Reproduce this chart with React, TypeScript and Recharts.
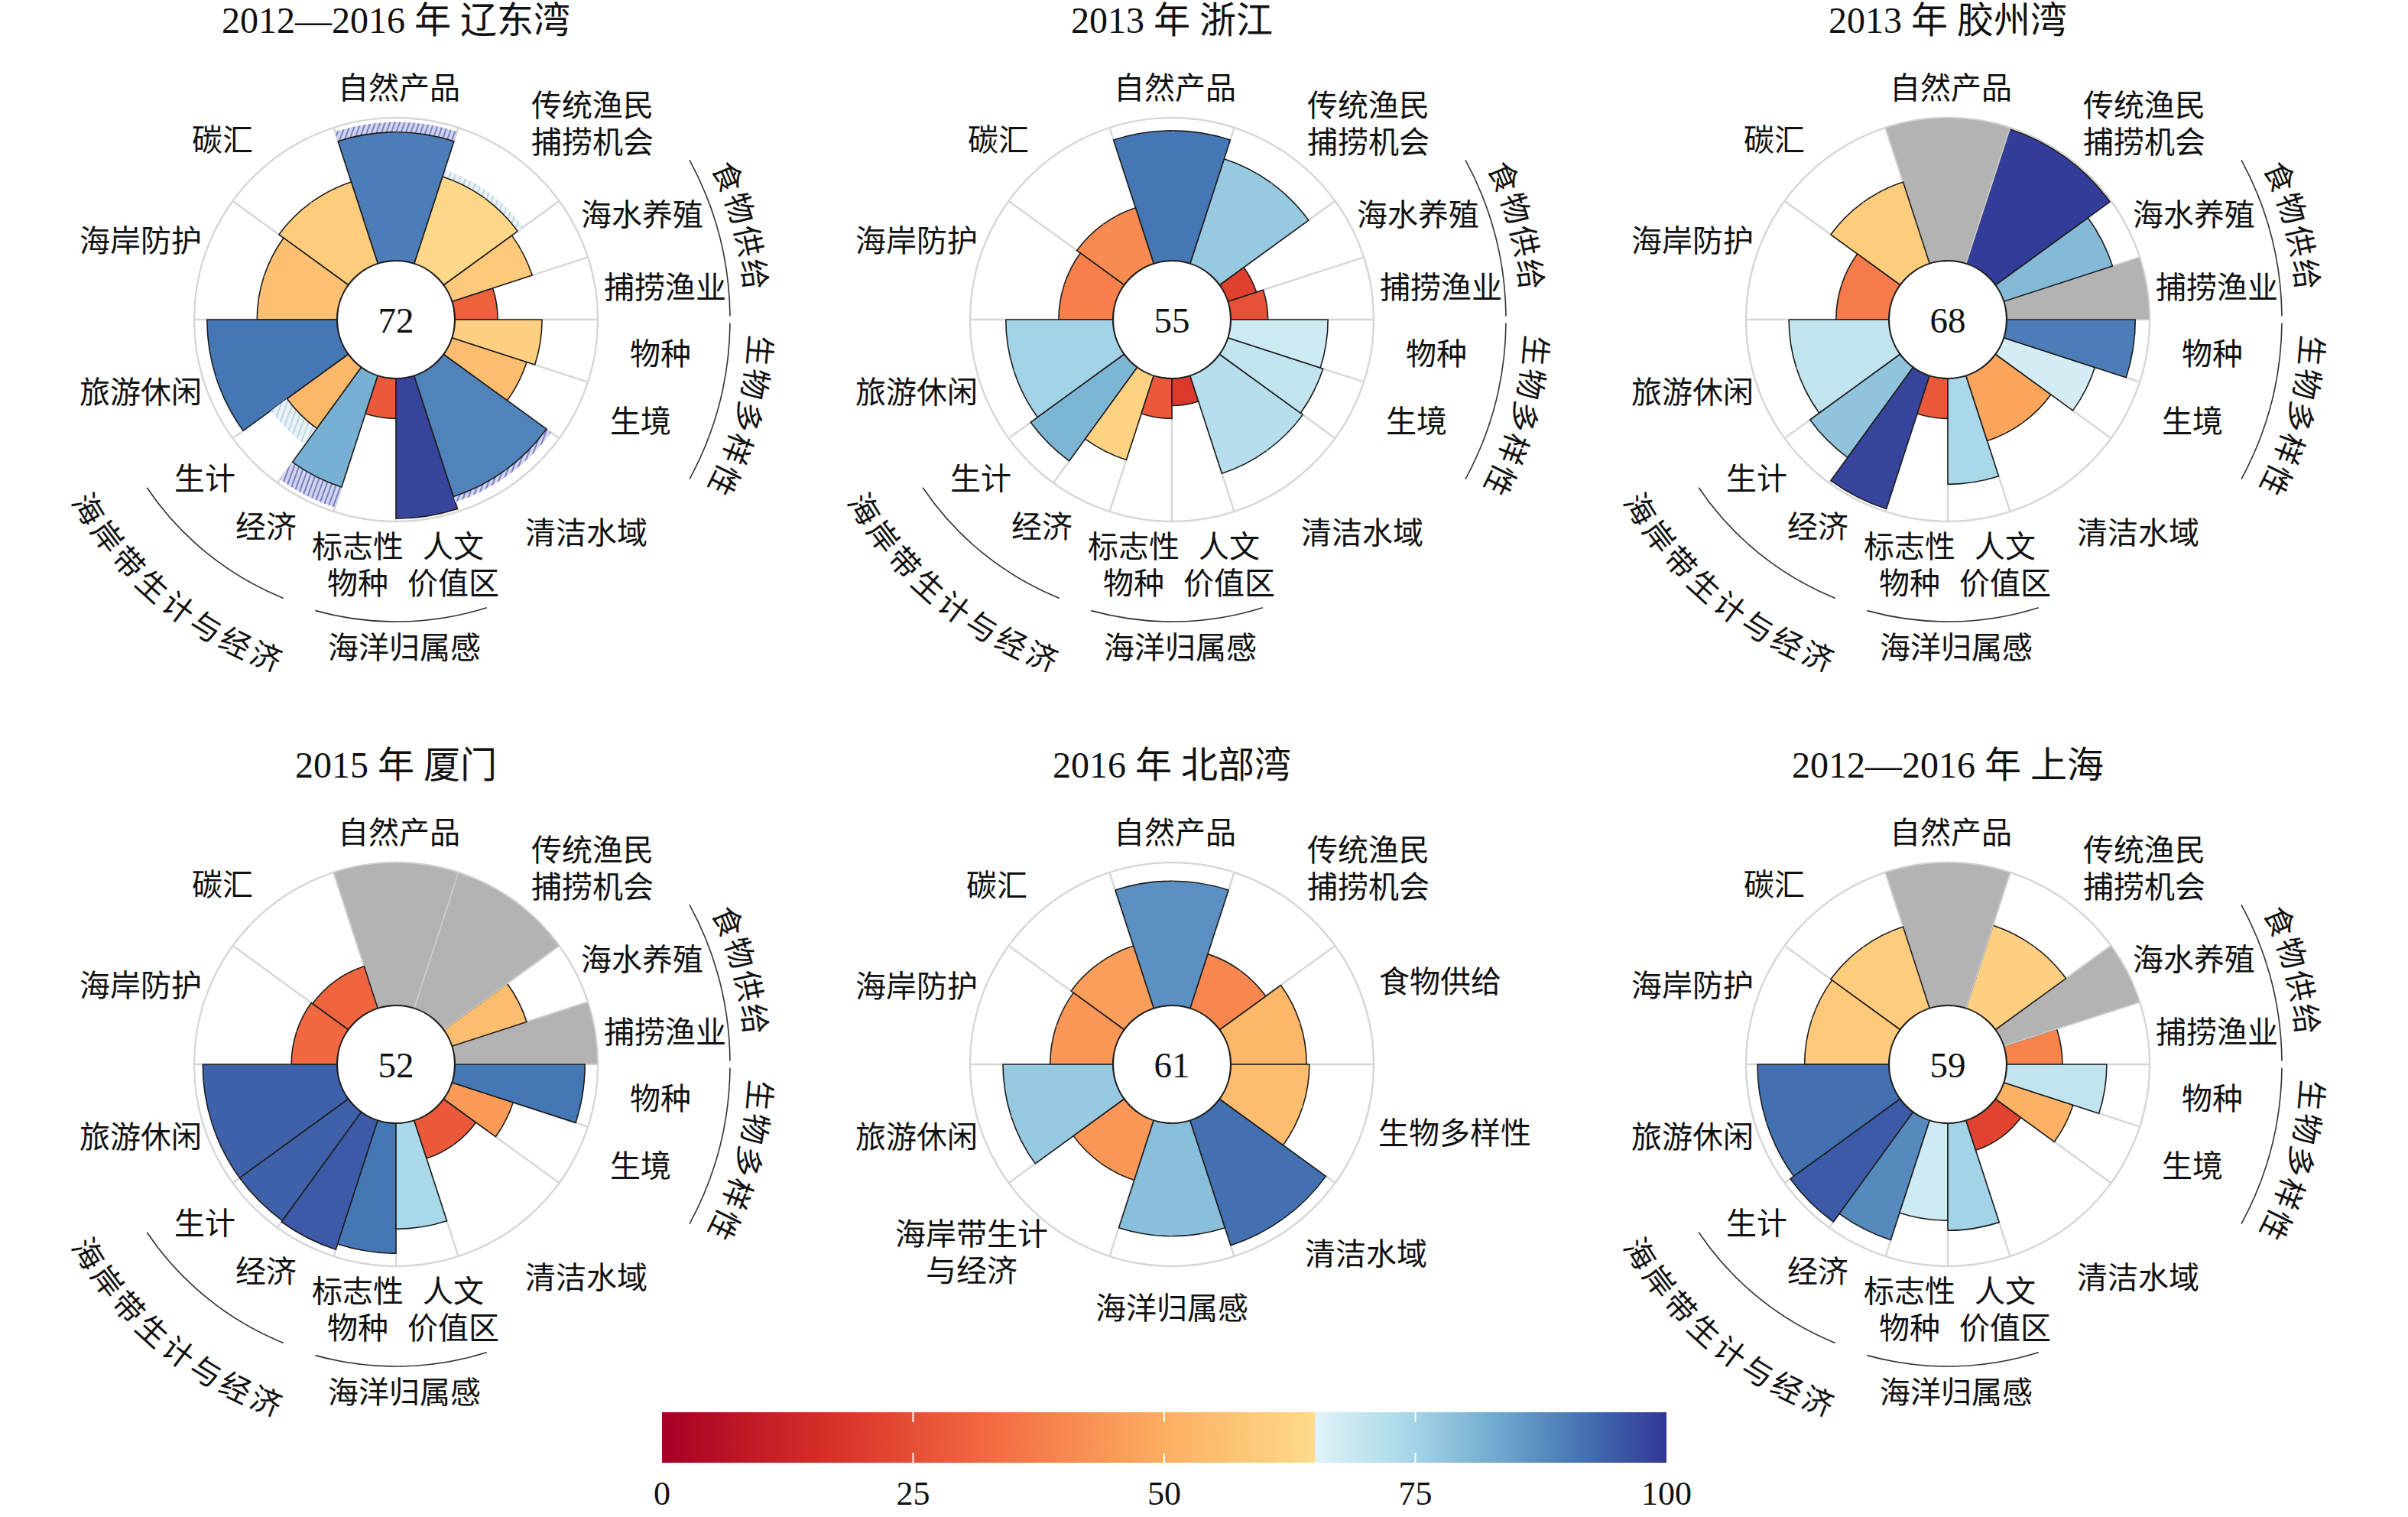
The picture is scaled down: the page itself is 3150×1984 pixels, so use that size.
import React from 'react';
import {
  RadialBarChart, RadialBar, PolarGrid, PolarAngleAxis, PolarRadiusAxis,
  BarChart, Bar, XAxis, YAxis,
} from 'recharts';

// ---------------- data ----------------
// sub-goal order, counter-clockwise starting at 0° (3 o'clock)
const subGoalNames = ['捕捞渔业', '海水养殖', '传统渔民捕捞机会', '自然产品', '碳汇', '海岸防护', '旅游休闲', '生计', '经济', '标志性物种', '人文价值区', '清洁水域', '生境', '物种'];
const subGoalWeights = [1, 1, 2, 2, 2, 2, 2, 1, 1, 1, 1, 2, 1, 1];
const subGroupNames = ['食物供给', '生物多样性', '海岸带生计与经济', '海洋归属感'];
const goalNames = ['食物供给', '传统渔民捕捞机会', '自然产品', '碳汇', '海岸防护', '旅游休闲', '海岸带生计与经济', '海洋归属感', '清洁水域', '生物多样性'];
const goalWeights = [2, 2, 2, 2, 2, 2, 2, 2, 2, 2];

const liaodongScores = [30, 59, 64, 90, 60, 56, 91, 53, 82, 28, 98, 89, 55, 61];
const liaodongUpper = [null, null, 69, 97, null, null, null, 67, 97, null, null, 93, null, null];
const zhejiangScores = [26, 21, 77, 91, 41, 38, 75, 81, 62, 28, 19, 72, 70, 68];
const jiaozhouScores = [null, 80, 99, null, 60, 37, 70, 78, 98, 28, 74, 48, 67, 90];
const xiamenScores = [null, 55, null, null, 31, 32, 94, 94, 95, 91, 74, 28, 45, 91];
const beibuScores = [53, 40, 87, 46, 44, 77, 44, 79, 92, 55];
const shanghaiScores = [39, null, 61, null, 60, 59, 92, 95, 88, 68, 75, 22, 51, 70];
const indexScores = [72, 55, 68, 52, 61, 59];
const panelTitles = ['2012—2016 年 辽东湾', '2013 年 浙江', '2013 年 胶州湾', '2015 年 厦门', '2016 年 北部湾', '2012—2016 年 上海'];
const colorbarTicks = [0, 25, 50, 75, 100];

// ---------------- styles / layout ----------------
const FONT = '"Liberation Serif", "Noto Sans CJK SC", serif';
const CENTERS = [[518, 418], [1533, 418], [2548, 418], [518, 1392], [1533, 1392], [2548, 1392]];
const HALF = 300;
const R_IN = 77;
const R_OUT = 264;
const NA_FILL = '#b3b3b3';
const HATCH_PANEL0: Record<number, string> = { 2: 'hatchLight', 3: 'hatchStrong', 7: 'hatchLight', 8: 'hatchStrong', 11: 'hatchStrong' };

const SUB_LABEL_LAYOUT = [
  { dx: 352, dy: -42, brk: 0 },
  { dx: 322, dy: -137, brk: 0 },
  { dx: 257, dy: -280, brk: 4 },
  { dx: 4, dy: -303, brk: 0 },
  { dx: -227, dy: -235, brk: 0 },
  { dx: -334, dy: -103, brk: 0 },
  { dx: -334, dy: 95, brk: 0 },
  { dx: -250, dy: 208, brk: 0 },
  { dx: -170, dy: 271, brk: 0 },
  { dx: -50, dy: 297, brk: 3 },
  { dx: 75, dy: 297, brk: 2 },
  { dx: 249, dy: 279, brk: 0 },
  { dx: 320, dy: 133, brk: 0 },
  { dx: 346, dy: 45, brk: 0 },
];
const GOAL_LABEL_LAYOUT = [
  { dx: 351, dy: -108, brk: 0 },
  { dx: 257, dy: -280, brk: 4 },
  { dx: 4, dy: -303, brk: 0 },
  { dx: -229, dy: -234, brk: 0 },
  { dx: -334, dy: -102, brk: 0 },
  { dx: -334, dy: 95, brk: 0 },
  { dx: -262, dy: 222, brk: 5 },
  { dx: 0, dy: 319, brk: 0 },
  { dx: 254, dy: 248, brk: 0 },
  { dx: 370, dy: 90, brk: 0 },
];

const panels = [
  { scores: liaodongScores, upper: liaodongUpper, sub: true },
  { scores: zhejiangScores, upper: null, sub: true },
  { scores: jiaozhouScores, upper: null, sub: true },
  { scores: xiamenScores, upper: null, sub: true },
  { scores: beibuScores, upper: null, sub: false },
  { scores: shanghaiScores, upper: null, sub: true },
];

// RdYlBu with the pale middle removed (as in the colour bar)
const RDYLBU = ['#a50026', '#d73027', '#f46d43', '#fdae61', '#fee090', '#ffffbf', '#e0f3f8', '#abd9e9', '#74add1', '#4575b4', '#313695'];
const hex = (h: string) => [parseInt(h.slice(1, 3), 16), parseInt(h.slice(3, 5), 16), parseInt(h.slice(5, 7), 16)];
function colorAtPos(p: number) {
  const t = Math.max(0, Math.min(1, p)) * 10;
  const i = Math.min(9, Math.floor(t));
  const f = t - i;
  const a = hex(RDYLBU[i]);
  const b = hex(RDYLBU[i + 1]);
  const c = a.map((v, k) => Math.round(v + (b[k] - v) * f));
  return `rgb(${c[0]},${c[1]},${c[2]})`;
}
function colorFor(s: number) {
  const p = s < 65 ? s * 0.006 : 0.6 + (s - 65) * 0.4 / 35;
  return colorAtPos(p);
}

const RAD = Math.PI / 180;
const pt = (cx: number, cy: number, r: number, a: number) => [cx + r * Math.cos(a * RAD), cy - r * Math.sin(a * RAD)];
function sectorPath(cx: number, cy: number, r0: number, r1: number, a0: number, a1: number) {
  const [x0, y0] = pt(cx, cy, r1, a0);
  const [x1, y1] = pt(cx, cy, r1, a1);
  const [x2, y2] = pt(cx, cy, r0, a1);
  const [x3, y3] = pt(cx, cy, r0, a0);
  const lg = a1 - a0 > 180 ? 1 : 0;
  return `M${x0},${y0} A${r1},${r1} 0 ${lg} 0 ${x1},${y1} L${x2},${y2} A${r0},${r0} 0 ${lg} 1 ${x3},${y3} Z`;
}
function arcPath(cx: number, cy: number, r: number, aStart: number, aEnd: number) {
  const [x0, y0] = pt(cx, cy, r, aStart);
  const [x1, y1] = pt(cx, cy, r, aEnd);
  const sweep = aEnd > aStart ? 0 : 1;
  const lg = Math.abs(aEnd - aStart) > 180 ? 1 : 0;
  return `M${x0},${y0} A${r},${r} 0 ${lg} ${sweep} ${x1},${y1}`;
}

function buildRows(scores: (number | null)[], weights: number[], upper: (number | null)[] | null, panel: number) {
  const rows: any[] = [];
  scores.forEach((s, i) => {
    for (let k = 0; k < weights[i]; k++) {
      rows.push({
        cat: `${i}_${k}`,
        len: s == null ? 100 : s,
        score: s,
        na: s == null,
        first: k === 0,
        last: k === weights[i] - 1,
        hi: upper ? upper[i] : null,
        hatch: panel === 0 ? HATCH_PANEL0[i] : undefined,
      });
    }
  });
  return rows;
}

function Petal(props: any) {
  const { cx, cy, innerRadius, outerRadius, startAngle, endAngle } = props;
  const d = props.payload ?? props;
  const a0 = Math.min(startAngle, endAngle);
  const a1 = Math.max(startAngle, endAngle);
  const fa0 = d.first ? a0 : a0 - 0.4;
  const fa1 = d.last ? a1 : a1 + 0.4;
  const fill = d.na ? NA_FILL : colorFor(d.score);
  const [ix0, iy0] = pt(cx, cy, innerRadius, a0);
  const [ox0, oy0] = pt(cx, cy, outerRadius, a0);
  const [ox1, oy1] = pt(cx, cy, outerRadius, a1);
  const [ix1, iy1] = pt(cx, cy, innerRadius, a1);
  let outline = d.first ? `M${ix0},${iy0} L${ox0},${oy0}` : `M${ox0},${oy0}`;
  outline += ` A${outerRadius},${outerRadius} 0 0 0 ${ox1},${oy1}`;
  if (d.last) outline += ` L${ix1},${iy1}`;
  let band = null;
  if (d.hi != null && d.hatch) {
    const rh = innerRadius + (outerRadius - innerRadius) * d.hi / d.len;
    band = <path d={sectorPath(cx, cy, outerRadius, rh, a0, a1)} fill={`url(#${d.hatch})`} stroke="none" />;
  }
  return (
    <g>
      {band}
      <path d={sectorPath(cx, cy, innerRadius, outerRadius, fa0, fa1)} fill={fill} stroke="none" />
      <path d={outline} fill="none" stroke={d.na ? '#d0d0d0' : '#1e1e1e'} strokeWidth={d.na ? 1.5 : 1.6} strokeLinejoin="round" />
    </g>
  );
}

function Flower({ i }: { i: number }) {
  const p = panels[i];
  const [cx, cy] = CENTERS[i];
  const weights = p.sub ? subGoalWeights : goalWeights;
  const rows = buildRows(p.scores, weights, p.upper, i);
  const total = weights.reduce((a, b) => a + b, 0);
  const step = 360 / total;
  const gridAngles: number[] = [];
  let acc = 0;
  weights.forEach((w) => { gridAngles.push(acc * step); acc += w; });
  return (
    <div style={{ position: 'absolute', left: cx - HALF, top: cy - HALF }}>
      <RadialBarChart
        width={2 * HALF}
        height={2 * HALF}
        cx={HALF}
        cy={HALF}
        innerRadius={R_IN}
        outerRadius={R_OUT}
        startAngle={step}
        endAngle={360 + step}
        layout="centric"
        data={rows}
        barCategoryGap={0}
        barGap={0}
        margin={{ top: 0, right: 0, bottom: 0, left: 0 }}
      >
        <PolarGrid gridType="circle" polarAngles={gridAngles} polarRadius={[R_OUT]} stroke="#d6d6d6" strokeWidth={2.4} />
        <PolarAngleAxis type="category" dataKey="cat" tick={false} tickLine={false} axisLine={false} />
        <PolarRadiusAxis type="number" domain={[0, 100]} tick={false} tickLine={false} axisLine={false} />
        <RadialBar dataKey="len" isAnimationActive={false} shape={Petal} />
      </RadialBarChart>
    </div>
  );
}

function splitName(name: string, brk: number) {
  return brk > 0 ? [name.slice(0, brk), name.slice(brk)] : [name];
}

function PanelText({ i }: { i: number }) {
  const p = panels[i];
  const [cx, cy] = CENTERS[i];
  const names = p.sub ? subGoalNames : goalNames;
  const layout = p.sub ? SUB_LABEL_LAYOUT : GOAL_LABEL_LAYOUT;
  const items: any[] = [];
  names.forEach((n, k) => {
    const L = layout[k];
    splitName(n, L.brk).forEach((line, j) => {
      items.push(
        <text key={`l${k}_${j}`} x={cx + L.dx} y={cy + L.dy + j * 48.5} textAnchor="middle" dominantBaseline="central" fontSize={40} fontFamily={FONT} fill="#111">{line}</text>
      );
    });
  });
  if (p.sub) {
    const strokeP = { fill: 'none', stroke: '#333', strokeWidth: 1.6 };
    items.push(<path key="a1" d={arcPath(cx, cy, 437, 28.5, 0.6)} {...strokeP} />);
    items.push(<path key="a2" d={arcPath(cx, cy, 437, -0.6, -28.5)} {...strokeP} />);
    items.push(<path key="a3" d={arcPath(cx, cy, 393, 214, 248)} {...strokeP} />);
    items.push(<path key="a4" d={arcPath(cx, cy, 395, 254.5, 287.5)} {...strokeP} />);
    const tp = [
      { id: `gp0_${i}`, d: arcPath(cx, cy, 472, 55, -25), text: subGroupNames[0] },
      { id: `gp1_${i}`, d: arcPath(cx, cy, 477, 24.3, -55.7), text: subGroupNames[1] },
      { id: `gp2_${i}`, d: arcPath(cx, cy, 473, 185.5, 275.5), text: subGroupNames[2] },
    ];
    tp.forEach((t) => {
      items.push(<path key={t.id} id={t.id} d={t.d} fill="none" stroke="none" />);
      items.push(
        <text key={`${t.id}t`} fontSize={40} fontFamily={FONT} fill="#111" dominantBaseline="central" textAnchor="middle" letterSpacing={4}>
          <textPath href={`#${t.id}`} startOffset="50%">{t.text}</textPath>
        </text>
      );
    });
    items.push(
      <text key="sp" x={cx + 11} y={cy + 429} textAnchor="middle" dominantBaseline="central" fontSize={40} fontFamily={FONT} fill="#111">{subGroupNames[3]}</text>
    );
  }
  return (
    <g>
      <text x={cx} y={cy - 392} textAnchor="middle" dominantBaseline="central" fontSize={48} fontFamily={FONT} fill="#111">{panelTitles[i]}</text>
      <circle cx={cx} cy={cy} r={R_IN} fill="#fff" stroke="#1e1e1e" strokeWidth={2.2} />
      <text x={cx} y={cy + 1} textAnchor="middle" dominantBaseline="central" fontSize={47} fontFamily={FONT} fill="#111">{indexScores[i]}</text>
      {items}
    </g>
  );
}

// ---------------- colour bar ----------------
const CB_LEFT = 866;
const CB_WIDTH = 1314;
const CB_TOP = 1847;
const CB_BAR_H = 66;
const CB_PAD = 40;
const cbData = [{ name: 'score', v: 100 }];

function gradientStops() {
  const stops: any[] = [];
  for (let s = 0; s <= 100; s += 2.5) {
    if (s === 65) {
      stops.push(<stop key="a65" offset="64.9%" stopColor={colorFor(64.99)} />);
      stops.push(<stop key="b65" offset="65.1%" stopColor={colorFor(65)} />);
    } else {
      stops.push(<stop key={`s${s}`} offset={`${s}%`} stopColor={colorFor(s)} />);
    }
  }
  return stops;
}

function CbTick(props: any) {
  const { x, payload } = props;
  const v = payload.value;
  const inner = v > 0 && v < 100;
  return (
    <g>
      {inner && <line x1={x} x2={x} y1={0} y2={13} stroke="#fff" strokeWidth={2} />}
      {inner && <line x1={x} x2={x} y1={CB_BAR_H - 13} y2={CB_BAR_H} stroke="#fff" strokeWidth={2} />}
      <text x={x} y={121} textAnchor="middle" fontSize={44} fontFamily={FONT} fill="#111">{v}</text>
    </g>
  );
}

function ColorBar() {
  return (
    <div style={{ position: 'absolute', left: CB_LEFT - CB_PAD, top: CB_TOP }}>
      <BarChart
        width={CB_WIDTH + 2 * CB_PAD}
        height={150}
        layout="vertical"
        data={cbData}
        margin={{ top: 0, right: CB_PAD, bottom: 0, left: CB_PAD }}
        barCategoryGap={0}
      >
        <defs>
          <linearGradient id="cbGrad" x1="0" y1="0" x2="1" y2="0">{gradientStops()}</linearGradient>
        </defs>
        <XAxis type="number" dataKey="v" domain={[0, 100]} ticks={colorbarTicks} interval={0} height={150 - CB_BAR_H} axisLine={false} tickLine={false} tick={<CbTick />} />
        <YAxis type="category" dataKey="name" hide />
        <Bar dataKey="v" fill="url(#cbGrad)" isAnimationActive={false} />
      </BarChart>
    </div>
  );
}

export default function App() {
  return (
    <div style={{ position: 'absolute', left: 0, top: 0, width: 3150, height: 1984, background: '#fff', overflow: 'hidden' }}>
      <svg width={0} height={0} style={{ position: 'absolute' }}>
        <defs>
          <pattern id="hatchStrong" patternUnits="userSpaceOnUse" width={6} height={6} patternTransform="rotate(20)">
            <rect width={6} height={6} fill="#d2d5ec" />
            <line x1={1} y1={0} x2={1} y2={6} stroke="#4753b3" strokeWidth={1.3} />
          </pattern>
          <pattern id="hatchLight" patternUnits="userSpaceOnUse" width={7} height={7} patternTransform="rotate(20)">
            <rect width={7} height={7} fill="#e8f4fa" />
            <line x1={1} y1={0} x2={1} y2={7} stroke="#9fb3c6" strokeWidth={1} />
          </pattern>
        </defs>
      </svg>
      {panels.map((_, i) => <Flower key={i} i={i} />)}
      <svg width={3150} height={1984} style={{ position: 'absolute', left: 0, top: 0, pointerEvents: 'none' }}>
        {panels.map((_, i) => <PanelText key={i} i={i} />)}
      </svg>
      <ColorBar />
    </div>
  );
}
